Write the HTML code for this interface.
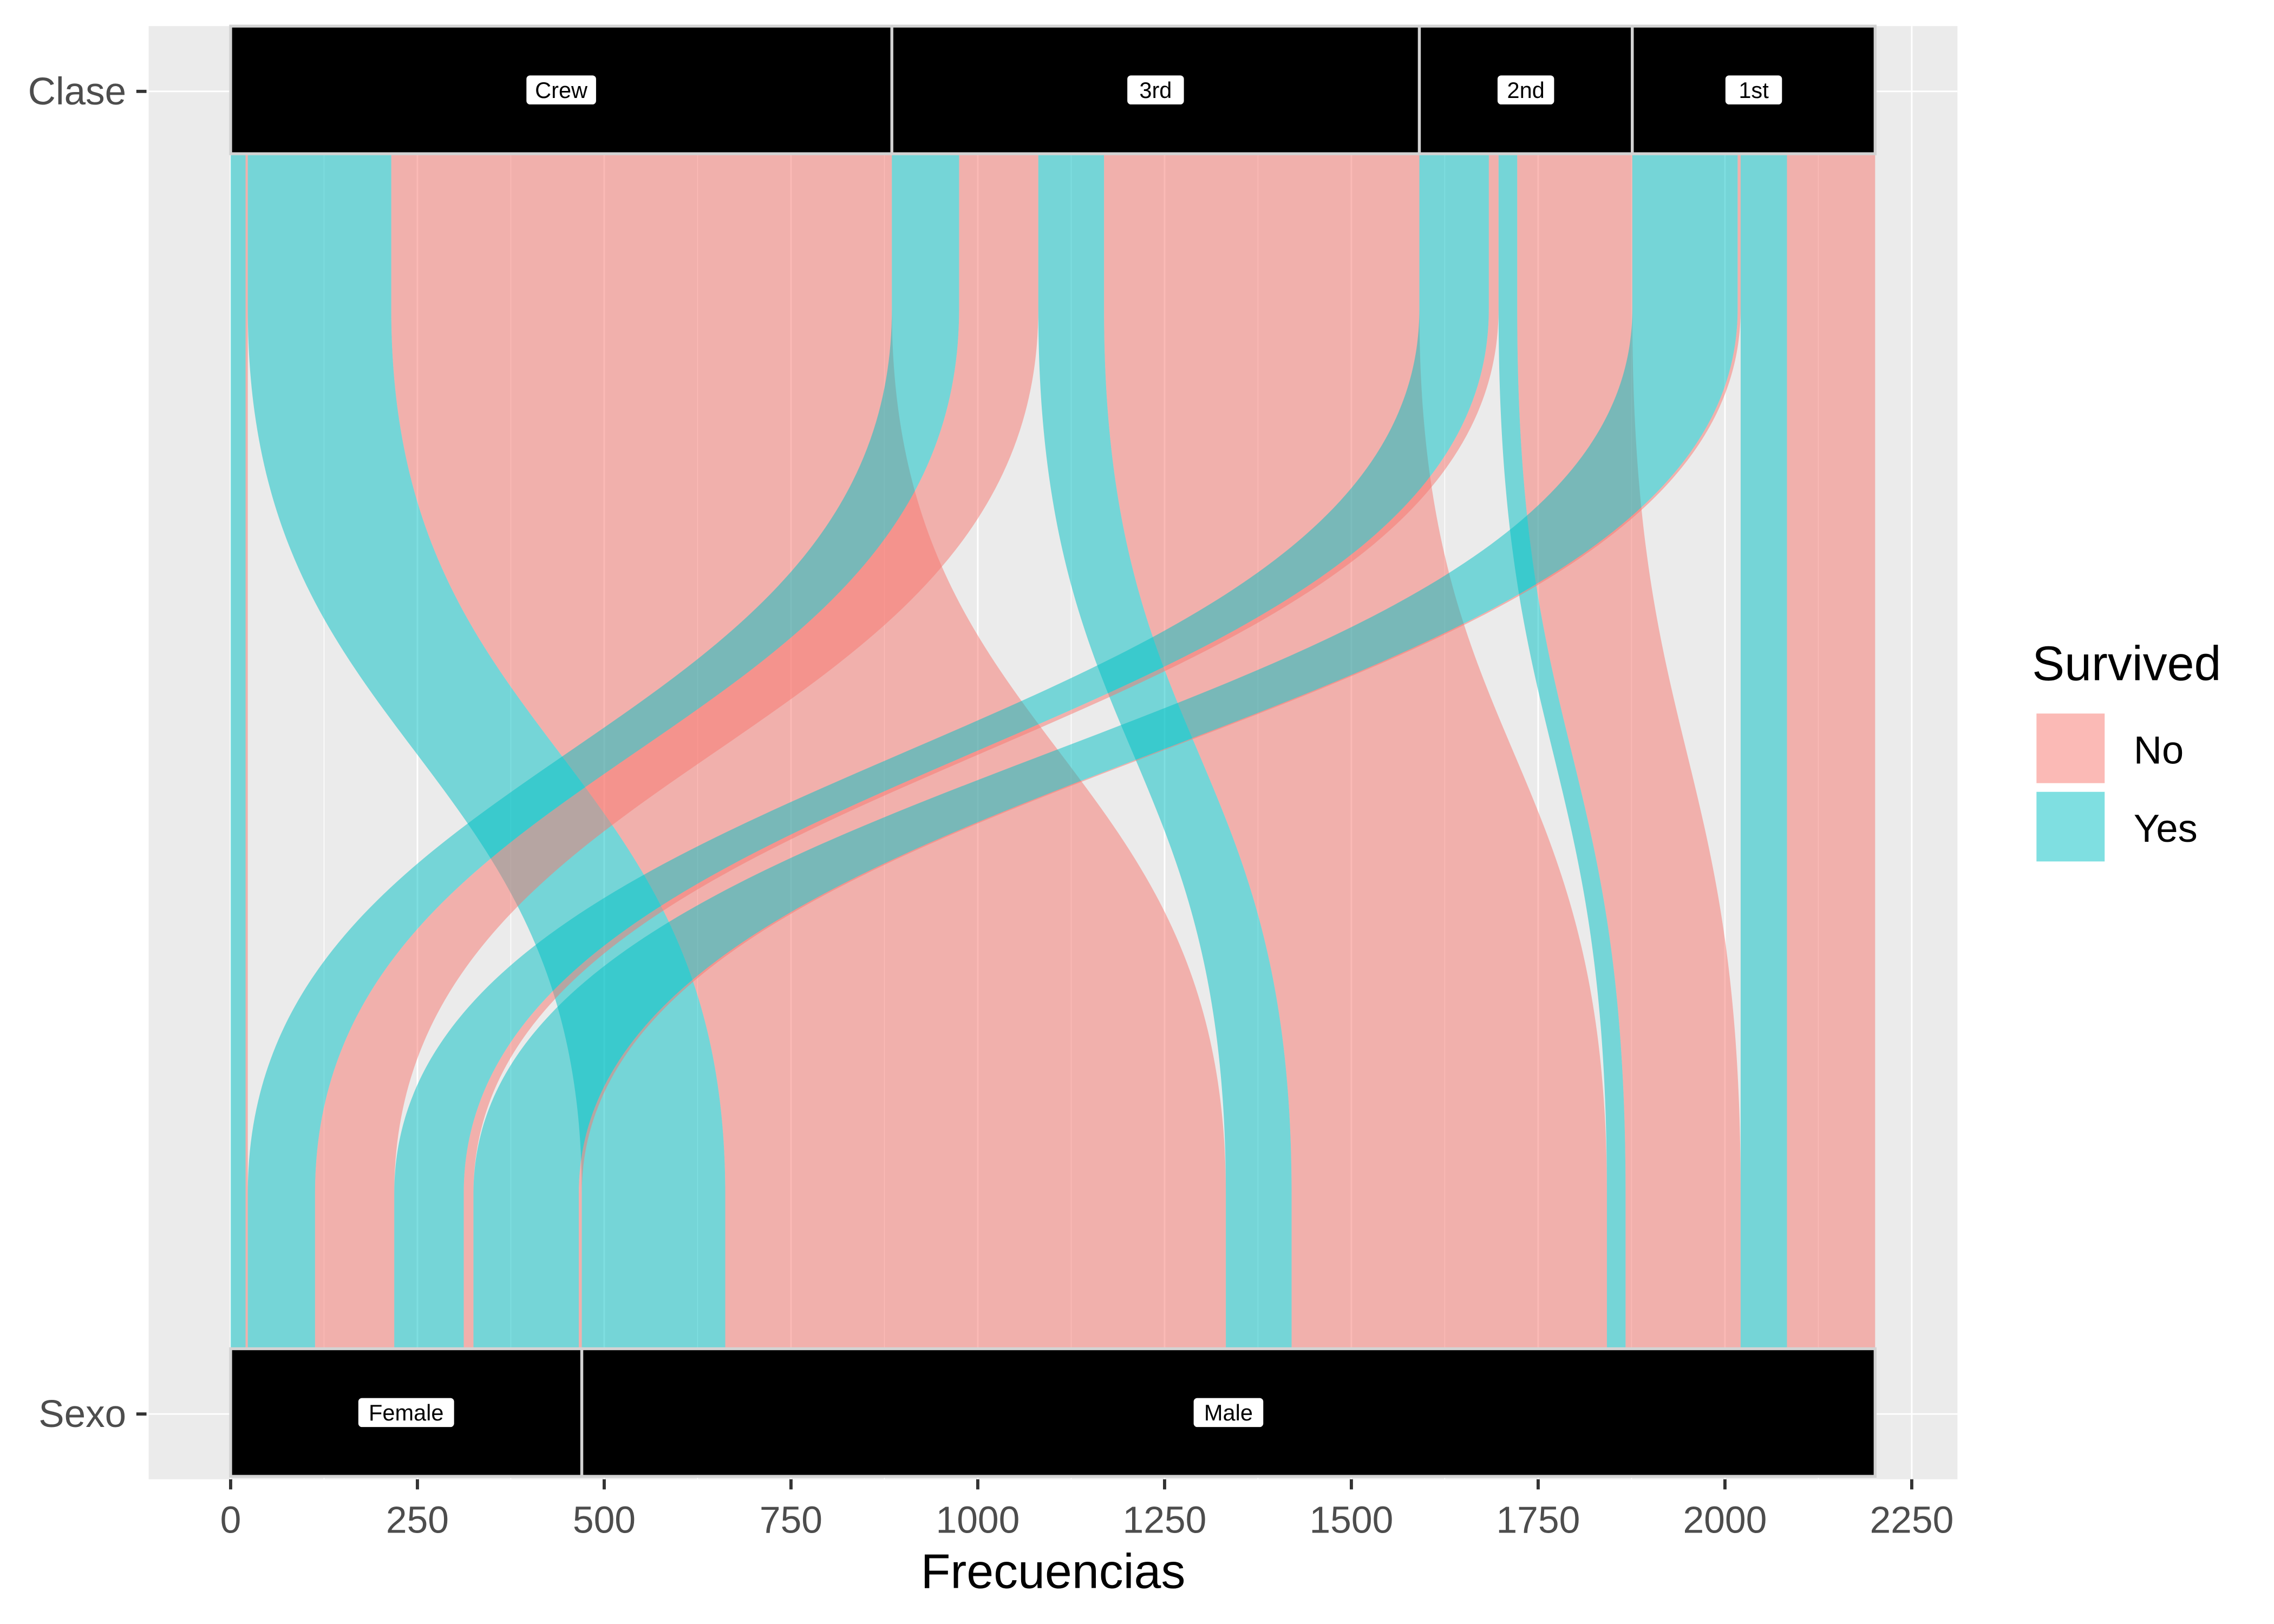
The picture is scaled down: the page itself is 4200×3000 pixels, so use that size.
<!DOCTYPE html>
<html><head><meta charset="utf-8"><style>html,body{margin:0;padding:0;background:#fff}svg{display:block}</style></head>
<body>
<svg id="s" xmlns="http://www.w3.org/2000/svg" width="4200" height="3000" viewBox="0 0 1567.75 1119.8" font-family="'Liberation Sans', sans-serif">
<rect x="0" y="0" width="1567.75" height="1119.8" fill="#fff"/>
<rect x="102.5" y="18" width="1247" height="1002" fill="#EBEBEB"/>
<g id="grid"></g>
<g id="flows"></g>
<g id="strata"></g>
<g id="axes"></g>
</svg>
<script>
var NS="http://www.w3.org/2000/svg";
var k=(1318-159)/2250, X=function(v){return 159+v*k;};
function el(p,t,a,txt){var e=document.createElementNS(NS,t);for(var n in a)e.setAttribute(n,a[n]);if(txt!==undefined)e.textContent=txt;p.appendChild(e);return e;}
var g=document.getElementById('grid');
for(var v=125;v<2300;v+=250){el(g,'line',{x1:X(v),x2:X(v),y1:18,y2:1020,stroke:'#fff','stroke-width':0.55});}
for(var v=0;v<=2250;v+=250){el(g,'line',{x1:X(v),x2:X(v),y1:18,y2:1020,stroke:'#fff','stroke-width':1.1});}
[63,975].forEach(function(y){el(g,'line',{x1:102.5,x2:1349.5,y1:y,y2:y,stroke:'#fff','stroke-width':1.1});});
var F=[
[0,20,0,20,1],[20,23,20,23,0],[23,215,470,662,1],[215,885,662,1332,0],
[885,975,23,113,1],[975,1081,113,219,0],[1081,1169,1332,1420,1],[1169,1591,1420,1842,0],
[1591,1684,219,312,1],[1684,1697,312,325,0],[1697,1722,1842,1867,1],[1722,1876,1867,2021,0],
[1876,2017,325,466,1],[2017,2021,466,470,0],[2021,2083,2021,2083,1],[2083,2201,2083,2201,0]];
var fg=document.getElementById('flows');
var yA=213,yB=823,ym=(yA+yB)/2;
F.forEach(function(f){
 var a0=X(f[0]),a1=X(f[1]),b0=X(f[2]),b1=X(f[3]);
 var d='M'+a0+',18 L'+a0+','+yA+' C'+a0+','+ym+' '+b0+','+ym+' '+b0+','+yB+' L'+b0+',1018 L'+b1+',1018 L'+b1+','+yB+' C'+b1+','+ym+' '+a1+','+ym+' '+a1+','+yA+' L'+a1+',18 Z';
 el(fg,'path',{d:d,fill:f[4]?'#00BFC4':'#F8766D','fill-opacity':0.5});
});
var sg=document.getElementById('strata');
function stratum(s,e,y0,y1,lab){
 el(sg,'rect',{x:X(s),y:y0,width:X(e)-X(s),height:y1-y0,fill:'#000',stroke:'#D3D3D3','stroke-width':2});
 var cx=(X(s)+X(e))/2, cy=(y0+y1)/2, w=lab.length*9+12;
 el(sg,'rect',{x:cx-w/2,y:cy-10,width:w,height:20,rx:2.5,fill:'#fff'});
 el(sg,'text',{x:cx,y:cy+5.5,'font-size':15.5,'text-anchor':'middle',fill:'#000'},lab);
}
stratum(0,885,18,106,'Crew');stratum(885,1591,18,106,'3rd');stratum(1591,1876,18,106,'2nd');stratum(1876,2201,18,106,'1st');
stratum(0,470,930,1018,'Female');stratum(470,2201,930,1018,'Male');
var ag=document.getElementById('axes');
[['Clase',63],['Sexo',975]].forEach(function(p){
 el(ag,'line',{x1:94,x2:101,y1:p[1],y2:p[1],stroke:'#333','stroke-width':2.2});
 el(ag,'text',{x:87,y:p[1]+9,'font-size':26.5,'text-anchor':'end',fill:'#4D4D4D'},p[0]);
});
for(var v=0;v<=2250;v+=250){
 el(ag,'line',{x1:X(v),x2:X(v),y1:1020,y2:1027,stroke:'#333','stroke-width':2.2});
 el(ag,'text',{x:X(v),y:1057,'font-size':26,'text-anchor':'middle',fill:'#4D4D4D'},String(v));
}
el(ag,'text',{x:726,y:1095,'font-size':33.5,'text-anchor':'middle',fill:'#000'},'Frecuencias');
el(ag,'text',{x:1401,y:469,'font-size':33.5,fill:'#000'},'Survived');
el(ag,'rect',{x:1403,y:491,width:49,height:50,fill:'#F8766D','fill-opacity':0.5,stroke:'#fff','stroke-width':2});
el(ag,'rect',{x:1403,y:545,width:49,height:50,fill:'#00BFC4','fill-opacity':0.5,stroke:'#fff','stroke-width':2});
el(ag,'text',{x:1471,y:526.5,'font-size':27,fill:'#000'},'No');
el(ag,'text',{x:1471,y:580.5,'font-size':27,fill:'#000'},'Yes');
</script>
</body></html>
